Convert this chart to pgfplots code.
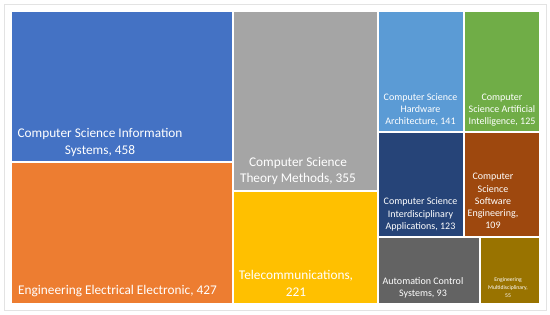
\documentclass[border=0pt]{standalone}
\usepackage{pgfplots}
\pgfplotsset{compat=1.18}
\usepackage{fontspec}
\setmainfont{Carlito}
\definecolor{cBlue}{HTML}{4472C4}
\definecolor{cOrange}{HTML}{ED7D31}
\definecolor{cGray}{HTML}{A5A5A5}
\definecolor{cYellow}{HTML}{FFC000}
\definecolor{cLBlue}{HTML}{5B9BD5}
\definecolor{cGreen}{HTML}{70AD47}
\definecolor{cDBlue}{HTML}{264478}
\definecolor{cBrown}{HTML}{9E480E}
\definecolor{cDGray}{HTML}{636363}
\definecolor{cOlive}{HTML}{997300}
\definecolor{cFrame}{HTML}{E3E3E3}
\tikzset{lbl/.style={text=white, align=center, inner sep=0pt}}
\begin{document}
\begin{tikzpicture}
\begin{axis}[
  scale only axis, width=550pt, height=315pt,
  xmin=0, xmax=550, ymin=0, ymax=315, y dir=reverse,
  hide axis, clip=false,
]
% background and frame
\addplot[fill=white, draw=none] coordinates {(0,0) (550,0) (550,315) (0,315)} -- cycle;
\addplot[fill=white, draw=cFrame, line width=1pt] coordinates {(4.5,5) (546,5) (546,311) (4.5,311)} -- cycle;
% tiles
\addplot[fill=cBlue, draw=none]   coordinates {(12,12) (232,12) (232,161.5) (12,161.5)} -- cycle;
\addplot[fill=cOrange, draw=none] coordinates {(12,163.5) (232,163.5) (232,303) (12,303)} -- cycle;
\addplot[fill=cGray, draw=none]   coordinates {(234,12) (377,12) (377,190.5) (234,190.5)} -- cycle;
\addplot[fill=cYellow, draw=none] coordinates {(234,192.5) (377,192.5) (377,303) (234,303)} -- cycle;
\addplot[fill=cLBlue, draw=none]  coordinates {(378.5,12) (463,12) (463,131) (378.5,131)} -- cycle;
\addplot[fill=cGreen, draw=none]  coordinates {(465,12) (539,12) (539,131) (465,131)} -- cycle;
\addplot[fill=cDBlue, draw=none]  coordinates {(378.5,133) (463,133) (463,236) (378.5,236)} -- cycle;
\addplot[fill=cBrown, draw=none]  coordinates {(465,133) (539,133) (539,236) (465,236)} -- cycle;
\addplot[fill=cDGray, draw=none]  coordinates {(378.5,238) (479,238) (479,303) (378.5,303)} -- cycle;
\addplot[fill=cOlive, draw=none]  coordinates {(481,238) (539,238) (539,303) (481,303)} -- cycle;
% labels
\node[lbl, font=\fontsize{13.3}{16.7}\selectfont] at (axis cs:100,142.5) {Computer Science Information\\Systems, 458};
\node[lbl, font=\fontsize{13.3}{16.7}\selectfont] at (axis cs:117.5,291.5) {Engineering Electrical Electronic, 427};
\node[lbl, font=\fontsize{13.3}{16.7}\selectfont] at (axis cs:298,171) {Computer Science\\Theory Methods, 355};
\node[lbl, font=\fontsize{13.3}{16.7}\selectfont] at (axis cs:296,283.5) {Telecommunications,\\221};
\node[lbl, font=\fontsize{10}{12.2}\selectfont] at (axis cs:420.5,110) {Computer Science\\Hardware\\Architecture, 141};
\node[lbl, font=\fontsize{10}{12.2}\selectfont] at (axis cs:502,110) {Computer\\Science Artificial\\Intelligence, 125};
\node[lbl, font=\fontsize{10}{12.2}\selectfont] at (axis cs:420.5,214.5) {Computer Science\\Interdisciplinary\\Applications, 123};
\node[lbl, font=\fontsize{10}{12.2}\selectfont] at (axis cs:493,201) {Computer\\Science\\Software\\Engineering,\\109};
\node[lbl, font=\fontsize{10}{12.2}\selectfont] at (axis cs:423,288) {Automation Control\\Systems, 93};
\node[lbl, font=\fontsize{5.7}{8}\selectfont] at (axis cs:508,287.5) {Engineering\\Multidisciplinary,\\55};
\end{axis}
\end{tikzpicture}
\end{document}
